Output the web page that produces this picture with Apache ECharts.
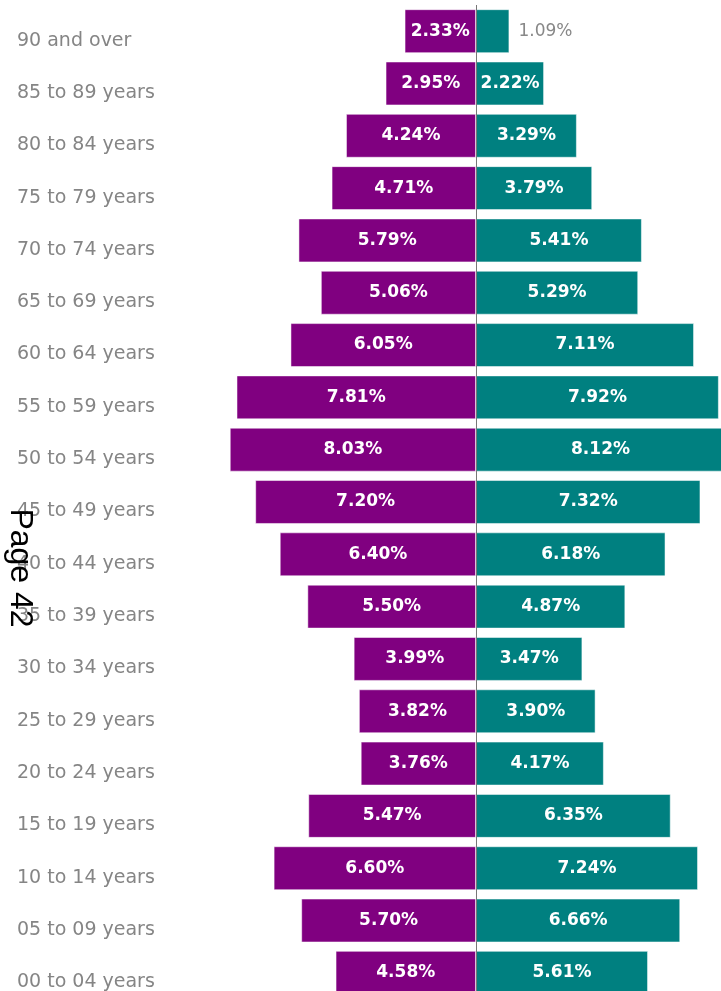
<!DOCTYPE html>
<html>
<head>
<meta charset="utf-8">
<script src="https://cdn.jsdelivr.net/npm/echarts@6/dist/echarts.min.js"></script>
<style>
  html, body { margin: 0; padding: 0; overflow: hidden; background: #fff; }
  #main { width: 760px; height: 1000px; }
</style>
</head>
<body>
<div id="main"></div>
<script>
// 年龄段（自上而下）
var ageGroups = ['90 and over', '85 to 89 years', '80 to 84 years', '75 to 79 years',
  '70 to 74 years', '65 to 69 years', '60 to 64 years', '55 to 59 years',
  '50 to 54 years', '45 to 49 years', '40 to 44 years', '35 to 39 years',
  '30 to 34 years', '25 to 29 years', '20 to 24 years', '15 to 19 years',
  '10 to 14 years', '05 to 09 years', '00 to 04 years'];

// 左侧（紫色）百分比
var purpleValues = [2.33, 2.95, 4.24, 4.71, 5.79, 5.06, 6.05, 7.81, 8.03, 7.20,
  6.40, 5.50, 3.99, 3.82, 3.76, 5.47, 6.60, 5.70, 4.58];

// 右侧（青色）百分比
var tealValues = [1.09, 2.22, 3.29, 3.79, 5.41, 5.29, 7.11, 7.92, 8.12, 7.32,
  6.18, 4.87, 3.47, 3.90, 4.17, 6.35, 7.24, 6.66, 5.61];

var myChart = echarts.init(document.getElementById('main'));

function pct(v) {
  return Math.abs(v).toFixed(2) + '%';
}

// 太短的条把标签放到外面
var tealData = tealValues.map(function (v) {
  if (v < 1.5) {
    return {
      value: v,
      label: { position: 'right', distance: 9, color: '#888', fontWeight: 'normal' }
    };
  }
  return v;
});

myChart.setOption({
  animation: false,
  backgroundColor: '#fff',
  grid: { left: 200, right: 8, top: 5, bottom: 1 },
  xAxis: {
    type: 'value',
    min: -9,
    max: 9,
    show: false
  },
  yAxis: {
    type: 'category',
    inverse: true,
    data: ageGroups,
    axisLine: { show: false },
    axisTick: { show: false },
    axisLabel: {
      align: 'left',
      verticalAlign: 'top',
      margin: 183,
      color: '#858585',
      fontFamily: 'DejaVu Sans',
      fontSize: 19,
      lineHeight: 19
    }
  },
  series: [{
    name: 'left',
    type: 'bar',
    stack: 'pop',
    barWidth: '84%',
    data: purpleValues.map(function (v) { return -v; }),
    itemStyle: { color: '#800080', borderColor: 'rgba(255,255,255,0.5)', borderWidth: 1 },
    label: {
      show: true,
      position: 'inside',
      color: '#fff',
      fontFamily: 'DejaVu Sans',
      fontWeight: 'bold',
      fontSize: 17,
      padding: [0, 0, 4, 0],
      formatter: function (p) { return pct(p.value); }
    },
    markLine: {
      silent: true,
      symbol: 'none',
      label: { show: false },
      lineStyle: { color: '#777', width: 1, type: 'solid' },
      data: [{ xAxis: 0 }]
    }
  }, {
    name: 'right',
    type: 'bar',
    stack: 'pop',
    barWidth: '84%',
    data: tealData,
    itemStyle: { color: '#008080', borderColor: 'rgba(255,255,255,0.5)', borderWidth: 1 },
    label: {
      show: true,
      position: 'inside',
      color: '#fff',
      fontFamily: 'DejaVu Sans',
      fontWeight: 'bold',
      fontSize: 17,
      padding: [0, 0, 4, 0],
      formatter: function (p) { return pct(p.value); }
    }
  }],
  graphic: [{
    type: 'text',
    x: 20,
    y: 568,
    rotation: -Math.PI / 2,
    z: 100,
    style: {
      text: 'Page 42',
      fill: '#000',
      font: '32px "Liberation Sans", Arial, sans-serif',
      textAlign: 'center',
      textVerticalAlign: 'middle'
    }
  }]
});
</script>
</body>
</html>
